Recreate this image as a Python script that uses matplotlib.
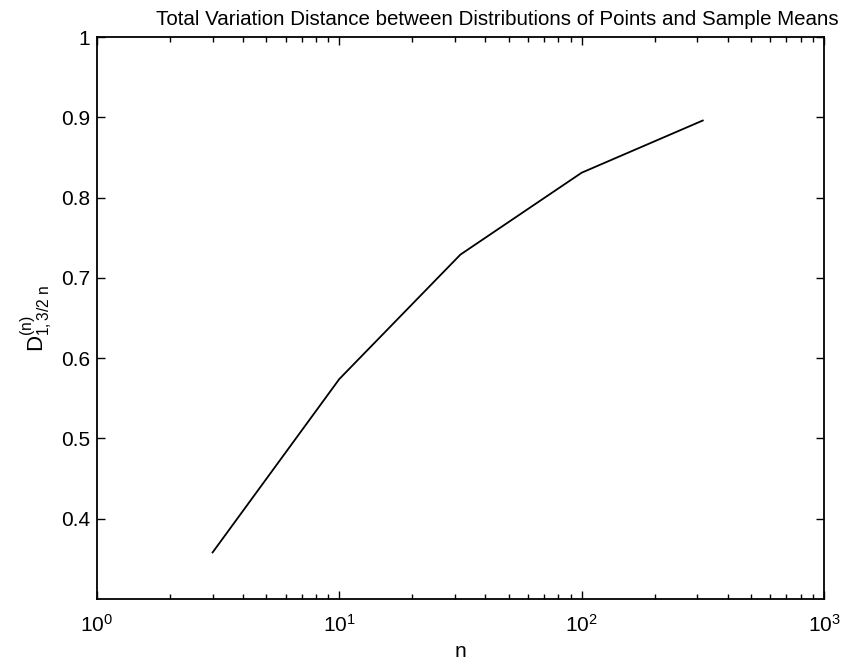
import matplotlib
matplotlib.use('Agg')
import matplotlib.pyplot as plt

plt.rcParams['font.family'] = 'Liberation Sans'
plt.rcParams['mathtext.fontset'] = 'custom'
plt.rcParams['mathtext.rm'] = 'Liberation Sans'
plt.rcParams['mathtext.it'] = 'Liberation Sans'
plt.rcParams['mathtext.default'] = 'rm'

# sample sizes and the distance values
n = [3, 10, 31.6, 100, 316]
dist = [0.358, 0.574, 0.729, 0.831, 0.896]

yticks = [0.4, 0.5, 0.6, 0.7, 0.8, 0.9, 1.0]
ytick_labels = ['0.4', '0.5', '0.6', '0.7', '0.8', '0.9', '1']

fig = plt.figure(figsize=(8.41, 6.66), dpi=100)
ax = fig.add_axes([0.1153, 0.1006, 0.8645, 0.8438])

ax.semilogx(n, dist, color='black', linewidth=1.3)

ax.set_xlim(1, 1000)
ax.set_ylim(0.3, 1.0)
ax.set_yticks(yticks)
ax.set_yticklabels(ytick_labels)

ax.tick_params(which='both', direction='in', top=True, right=True,
               labelsize=15, width=1.0)
ax.tick_params(axis='x', which='both', pad=11)
ax.tick_params(axis='y', which='both', pad=5)
ax.tick_params(which='major', length=6)
ax.tick_params(which='minor', length=3.5)
for s in ax.spines.values():
    s.set_linewidth(1.3)

ax.set_title('Total Variation Distance between Distributions of Points and Sample Means',
             fontsize=14.8, pad=9, x=0.55)
ax.set_xlabel('n', fontsize=15, labelpad=4)
ax.set_ylabel(r'$D^{(n)}_{1,3/2\ n}$', fontsize=16, labelpad=4)

fig.savefig('out.png', dpi=100)
